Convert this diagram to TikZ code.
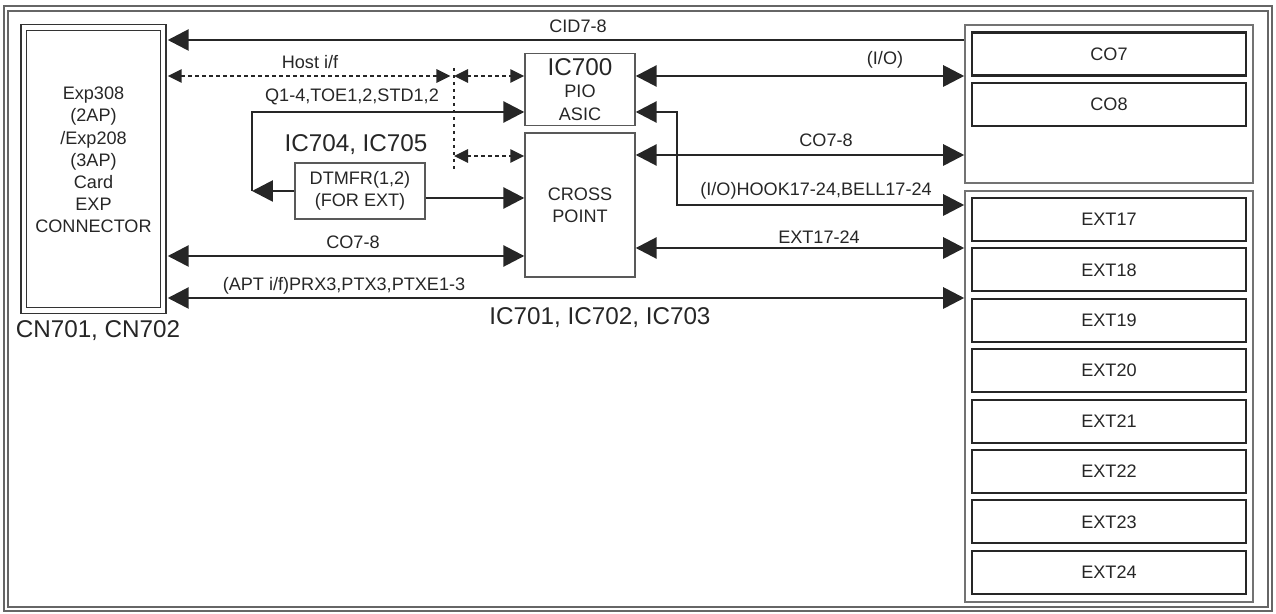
\documentclass[tikz,border=0pt]{standalone}
\usepackage{fontspec}
\setmainfont{Liberation Sans}
\usetikzlibrary{arrows.meta}

\newcommand{\bigtxt}{\fontsize{13.8}{16}\selectfont}

\begin{document}
\begin{tikzpicture}[x=0.02cm, y=-0.02cm,
        every node/.style={font=\fontsize{10.3}{12.6}\selectfont, text=black!85},
        box/.style={draw=black!65, line width=0.8pt, inner sep=0pt, align=center},
        grp/.style={draw=black!55, line width=0.9pt, minimum width=5.76cm},
        port/.style={draw=black!85, line width=1.2pt, minimum width=5.48cm, minimum height=0.86cm},
        sig/.style={draw=black!85, line width=1.6pt, >={Triangle[length=0.42cm,width=0.42cm]}},
        dots/.style={draw=black!85, line width=1.6pt, dash pattern=on 0.07cm off 0.07cm,
            >={Triangle[length=0.28cm,width=0.26cm]}}]
    \useasboundingbox (0,0) rectangle (1276,614);
    % frame
    \draw[black!60, line width=0.9pt] (4,6) rectangle (1272,611);
    \draw[black!60, line width=0.9pt] (8,11) rectangle (1268,607);

    % expansion card connector
    \node[box, draw=black!80, double, double distance=0.085cm, outer sep=0.09cm,
        minimum width=2.79cm, minimum height=5.66cm] (conn) at (93.5,169) {};
    \node[align=center] (conntxt) at (93.5,160) {Exp308\\(2AP)\\/Exp208\\(3AP)\\Card\\EXP\\CONNECTOR};
    \node[font=\bigtxt] (cn) at (98,331) {CN701, CN702};

    % asic, cross point, dtmf receiver
    \node[box, minimum width=2.2cm, minimum height=1.44cm] (pio) at (580,89.5)
        {{\bigtxt IC700}\\PIO\\ASIC};
    \node[box, minimum width=2.2cm, minimum height=2.88cm] (cross) at (580,205) {CROSS\\POINT};
    \node[box, minimum width=2.6cm, minimum height=1.12cm] (dtmf) at (360,191) {DTMFR(1,2)\\(FOR EXT)};
    \node[font=\bigtxt] (dtmfic) at (356,145) {IC704, IC705};
    \node[font=\bigtxt] (xpic) at (600,318) {IC701, IC702, IC703};

    % trunk and extension ports
    \node[grp, minimum height=3.16cm] (cogrp) at (1109,104) {};
    \node[port] (co7) at (1109,54) {CO7};
    \node[port] (co8) at (1109,104.5) {CO8};
    \node[grp, minimum height=8.22cm] (extgrp) at (1109,396.5) {};
    \foreach \n [count=\k from 0] in {17,...,24}
        \node[port] (ext\n) at (1109,{219.5+50.4*\k}) {EXT\n};

    % host bus hub
    \coordinate (hubT) at (454,68);
    \coordinate (hubB) at (454,172);
    \coordinate (tap) at (252,191);
    \coordinate (bend) at (677,112);

    \draw[sig, <-] (conn.east |- 0,40) -- (cogrp.west |- 0,40);
    \node (cid) at (578,26) {CID7-8};
    \draw[dots, <->, shorten >=2pt] (conn.east |- 0,76) -- (hubT |- 0,76);
    \node (host) at (310,62) {Host i/f};
    \draw[dots] (hubT) -- (hubB);
    \draw[dots, <->] (hubT |- 0,76) -- (pio.west |- 0,76);
    \draw[dots, <->] (hubT |- 0,156) -- (cross.west |- 0,156);

    \draw[sig, ->] (dtmf.west) -- (tap);
    \draw[sig, ->] (tap) |- (pio.west |- 0,112);
    \node (qsig) at (352,97) {Q1-4,TOE1,2,STD1,2};
    \draw[sig, ->] (dtmf.east |- 0,198) -- (cross.west |- 0,198);
    \draw[sig, <->] (conn.east |- 0,256) -- (cross.west |- 0,256);
    \node (co78a) at (353,242) {CO7-8};
    \draw[sig, <->] (conn.east |- 0,298) -- (extgrp.west |- 0,298);
    \node (apt) at (344,286) {(APT i/f)PRX3,PTX3,PTXE1-3};

    \draw[sig, <->] (pio.east |- 0,76) -- (cogrp.west |- 0,76);
    \node (io) at (885,60) {(I/O)};
    \draw[sig, <->] (cross.east |- 0,155) -- (cogrp.west |- 0,155);
    \node (co78b) at (826,140) {CO7-8};
    \draw[sig, <->] (pio.east |- 0,112) -- (bend) |- (extgrp.west |- 0,205);
    \node (hook) at (816,191) {(I/O)HOOK17-24,BELL17-24};
    \draw[sig, <->] (cross.east |- 0,248) -- (extgrp.west |- 0,248);
    \node (extsig) at (819,237) {EXT17-24};
\end{tikzpicture}
\end{document}
